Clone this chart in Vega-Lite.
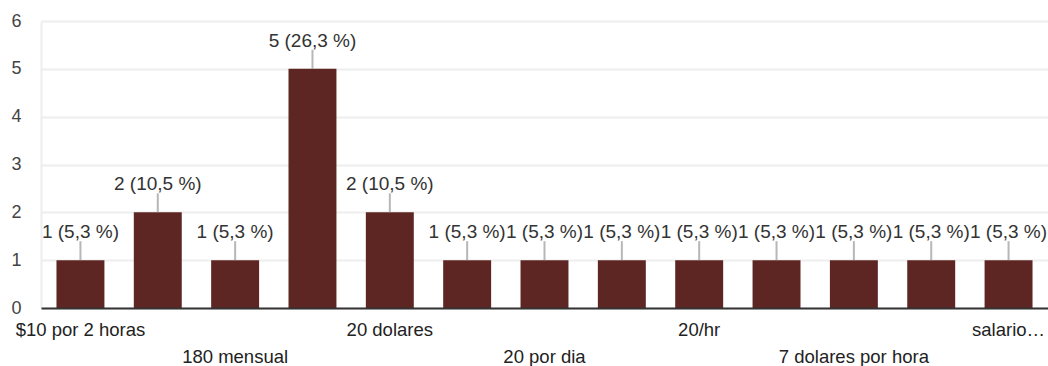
{
  "$schema": "https://vega.github.io/schema/vega-lite/v6.json",
  "width": 1007,
  "height": 287,
  "autosize": {"type": "none"},
  "padding": {"left": 41, "top": 21, "right": 0, "bottom": 58},
  "background": "white",
  "config": {
    "view": {"stroke": null},
    "font": "Liberation Sans"
  },
  "data": {
    "values": [
      {"respuesta": "$10 por 2 horas", "count": 1, "label": "1 (5,3 %)"},
      {"respuesta": "15 dolares", "count": 2, "label": "2 (10,5 %)"},
      {"respuesta": "180 mensual", "count": 1, "label": "1 (5,3 %)"},
      {"respuesta": "20", "count": 5, "label": "5 (26,3 %)"},
      {"respuesta": "20 dolares", "count": 2, "label": "2 (10,5 %)"},
      {"respuesta": "20 dolares por hora", "count": 1, "label": "1 (5,3 %)"},
      {"respuesta": "20 por dia", "count": 1, "label": "1 (5,3 %)"},
      {"respuesta": "20 por hora", "count": 1, "label": "1 (5,3 %)"},
      {"respuesta": "20/hr", "count": 1, "label": "1 (5,3 %)"},
      {"respuesta": "25 dolares", "count": 1, "label": "1 (5,3 %)"},
      {"respuesta": "7 dolares por hora", "count": 1, "label": "1 (5,3 %)"},
      {"respuesta": "8 dolares por hora", "count": 1, "label": "1 (5,3 %)"},
      {"respuesta": "salario minimo", "count": 1, "label": "1 (5,3 %)"}
    ]
  },
  "encoding": {
    "x": {
      "field": "respuesta",
      "type": "nominal",
      "sort": null,
      "scale": {"paddingInner": 0.38, "paddingOuter": 0.2},
      "axis": {
        "title": null,
        "ticks": false,
        "labelAngle": 0,
        "labelFontSize": 18.5,
        "labelColor": "#222222",
        "labelPadding": 12,
        "labelBaseline": "top",
        "labelOverlap": false,
        "labelLimit": 300,
        "labelLineHeight": 27,
        "labelExpr": "round(datum.index * 12) % 2 == 1 ? '' : (round(datum.index * 12) % 4 == 2 ? ['', datum.label] : (round(datum.index * 12) == 12 ? truncate(datum.label, 8) : datum.label))",
        "domainColor": "#333333",
        "domainWidth": 2,
        "zindex": 1
      }
    },
    "y": {
      "field": "count",
      "type": "quantitative",
      "scale": {"domain": [0, 6]},
      "axis": {
        "title": null,
        "values": [0, 1, 2, 3, 4, 5, 6],
        "ticks": false,
        "labelFontSize": 18,
        "labelColor": "#444444",
        "labelPadding": 20,
        "gridColor": "#eeeeee",
        "gridWidth": 2,
        "domainColor": "#eeeeee",
        "domainWidth": 2
      }
    }
  },
  "layer": [
    {"mark": {"type": "bar", "color": "#5e2623"}},
    {"mark": {"type": "tick", "orient": "vertical", "size": 19, "thickness": 2, "color": "#999999", "yOffset": -9.5}},
    {
      "mark": {"type": "text", "fontSize": 19, "color": "#333333", "baseline": "middle", "yOffset": -28},
      "encoding": {"text": {"field": "label"}}
    }
  ]
}
